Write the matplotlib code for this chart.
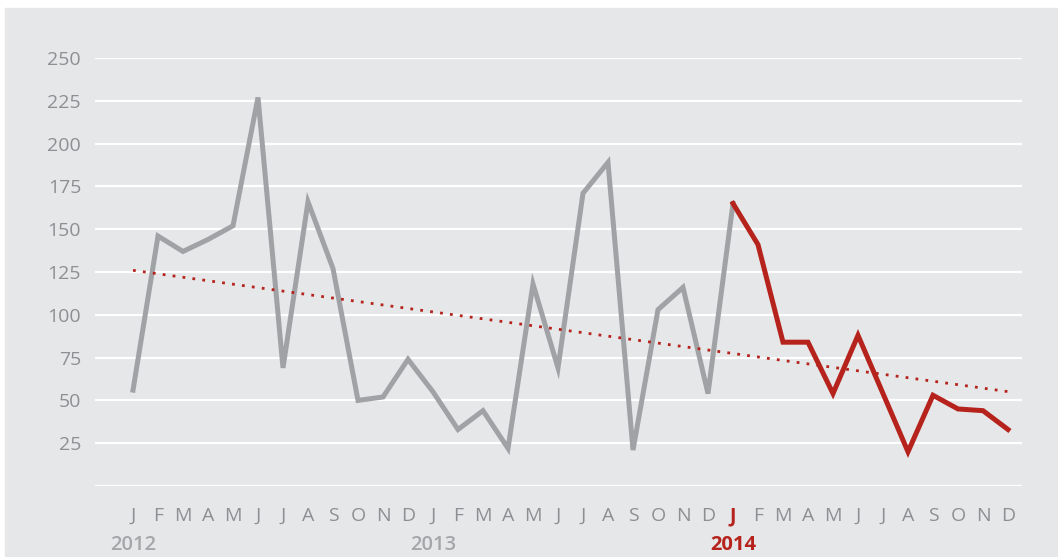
import numpy as np
import matplotlib.pyplot as plt
from matplotlib import transforms

months = ['J', 'F', 'M', 'A', 'M', 'J', 'J', 'A', 'S', 'O', 'N', 'D'] * 3
years = ['2012', '2013', '2014']
values = [56, 146, 137, 144, 152, 227, 69, 166, 127, 50, 52, 74,
          55, 33, 44, 22, 118, 69, 171, 189, 21, 103, 116, 54,
          165, 141, 84, 84, 54, 88, 54, 20, 53, 45, 44, 33]
highlight_from = 24  # first month of 2014
y_ticks = [25, 50, 75, 100, 125, 150, 175, 200, 225, 250]

bg = '#e6e7e9'
grey_line = '#a1a2a5'
red = '#b5231c'
label_grey = '#8e8f92'

plt.rcParams['font.family'] = ['Open Sans', 'DejaVu Sans']

fig = plt.figure(figsize=(10.58, 5.57), dpi=100)
fig.patch.set_facecolor('white')
# grey panel behind everything, leaving a thin white strip top and left
fig.add_artist(plt.Rectangle((5 / 1058, 0), 1, 1 - 8 / 557,
                             transform=fig.transFigure, color=bg, zorder=0))

ax = fig.add_axes([95 / 1058, (557 - 486) / 557, (1022 - 95) / 1058, (486 - 58) / 557])
ax.set_facecolor(bg)
ax.patch.set_alpha(0)

x = np.arange(len(values))
vals = np.array(values, dtype=float)

for t in [0] + y_ticks:
    ax.axhline(t, color='white', lw=1.6, zorder=1)

ax.plot(x[:highlight_from + 1], vals[:highlight_from + 1], color=grey_line,
        lw=3.6, solid_joinstyle='miter', zorder=3)
ax.plot(x[highlight_from:], vals[highlight_from:], color=red,
        lw=3.6, solid_joinstyle='miter', zorder=4)

# linear trend over the full period
k, b = np.polyfit(x, vals, 1)
ax.plot(x, k * x + b, color=red, lw=2.0, linestyle=(0, (1, 2.6)), zorder=5)

ax.set_xlim(-1.52, 35.56)
ax.set_ylim(0, 250)
for s in ax.spines.values():
    s.set_visible(False)

ax.set_yticks(y_ticks)
ax.set_yticklabels([str(t) for t in y_ticks])
ax.tick_params(axis='y', length=0, pad=10, labelsize=14, labelcolor=label_grey)

ax.set_xticks(x)
ax.set_xticklabels(months)
ax.tick_params(axis='x', length=0, pad=15, labelsize=14, labelcolor=label_grey)
for i, lab in enumerate(ax.get_xticklabels()):
    if i == highlight_from:
        lab.set_color(red)
        lab.set_fontweight('bold')

trans = transforms.blended_transform_factory(ax.transData, fig.transFigure)
for i, yr in enumerate(years):
    is_hl = i * 12 == highlight_from
    ax.text(i * 12, 1 - 545 / 557, yr, transform=trans, ha='center', va='center',
            fontsize=14.5, fontweight='bold' if is_hl else 'semibold',
            color=red if is_hl else '#a5a6a9')

fig.savefig('out.png', dpi=100, facecolor=fig.get_facecolor())
